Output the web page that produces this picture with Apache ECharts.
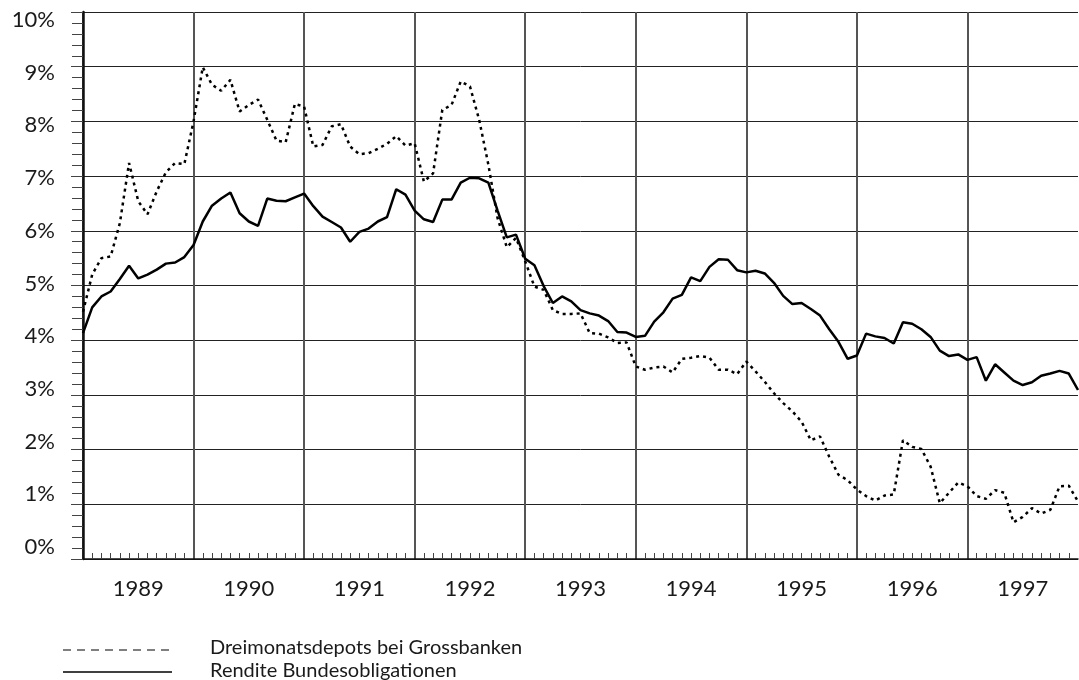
<!DOCTYPE html>
<html>
<head>
<meta charset="utf-8">
<script src="https://cdn.jsdelivr.net/npm/echarts@6/dist/echarts.min.js"></script>
<style>
html,body{margin:0;padding:0;background:#fff;}
#chart{width:1079px;height:680px;}
</style>
</head>
<body>
<div id="chart"></div>
<script>
const years = ['1989','1990','1991','1992','1993','1994','1995','1996','1997'];
const yTicks = [0,1,2,3,4,5,6,7,8,9,10];
const seriesNames = ['Dreimonatsdepots bei Grossbanken','Rendite Bundesobligationen'];

const depots = [4.52,5.20,5.50,5.53,6.14,7.24,6.54,6.30,6.72,7.07,7.24,7.22,
8.00,8.99,8.67,8.56,8.76,8.18,8.30,8.40,8.03,7.65,7.62,8.32,
8.27,7.54,7.57,7.91,7.95,7.54,7.40,7.42,7.50,7.59,7.73,7.56,
7.60,6.90,7.05,8.21,8.30,8.73,8.64,8.03,7.21,6.23,5.70,5.87,
5.44,4.98,4.92,4.55,4.48,4.48,4.49,4.13,4.12,4.05,3.95,3.96,
3.52,3.46,3.50,3.52,3.41,3.66,3.68,3.71,3.68,3.46,3.46,3.38,
3.61,3.43,3.24,3.03,2.85,2.70,2.51,2.17,2.24,1.87,1.54,1.44,
1.27,1.15,1.07,1.16,1.18,2.17,2.05,2.01,1.69,1.02,1.21,1.40,
1.33,1.15,1.10,1.26,1.21,0.67,0.77,0.93,0.83,0.90,1.33,1.34,
1.05];

const rendite = [4.13,4.60,4.80,4.89,5.12,5.36,5.13,5.20,5.29,5.40,5.42,5.52,
5.74,6.17,6.46,6.59,6.70,6.32,6.17,6.09,6.59,6.55,6.54,6.61,
6.68,6.45,6.26,6.16,6.06,5.80,5.98,6.04,6.17,6.25,6.76,6.66,
6.37,6.21,6.16,6.57,6.57,6.88,6.97,6.96,6.88,6.37,5.88,5.93,
5.49,5.37,4.99,4.68,4.80,4.71,4.55,4.49,4.45,4.35,4.15,4.14,
4.06,4.08,4.34,4.51,4.76,4.83,5.15,5.08,5.34,5.48,5.47,5.28,
5.24,5.27,5.22,5.05,4.81,4.66,4.68,4.57,4.45,4.20,3.97,3.66,
3.72,4.12,4.07,4.04,3.94,4.33,4.30,4.20,4.06,3.81,3.71,3.74,
3.64,3.69,3.26,3.56,3.41,3.26,3.18,3.23,3.35,3.39,3.44,3.39,
3.09];

const monthsTotal = years.length * 12;
const FONT = 'Lato';
const TXT = '#1a1a1a';

// year divider colours: visible for every year boundary, hidden at the right edge
const yearLineColors = years.map(() => '#555').concat(['rgba(0,0,0,0)']);

const chart = echarts.init(document.getElementById('chart'), null, {renderer:'canvas'});
chart.setOption({
  animation: false,
  backgroundColor: '#fff',
  grid: {left: 83, right: 1, top: 12, bottom: 121, containLabel: false},
  xAxis: [{
    type: 'value', min: 0, max: monthsTotal, interval: 12,
    axisLine: {show: true, onZero: false, lineStyle: {color: '#111', width: 1.5}},
    axisTick: {show: false, inside: true},
    minorTick: {show: true, splitNumber: 12, length: 6, lineStyle: {color: '#444', width: 1}},
    axisLabel: {show: false},
    splitLine: {show: true, lineStyle: {color: yearLineColors, width: 2}},
    minorSplitLine: {show: false}
  }, {
    type: 'category', position: 'bottom', data: years, boundaryGap: true,
    axisLine: {show: false}, axisTick: {show: false}, splitLine: {show: false},
    axisLabel: {show: true, fontFamily: FONT, fontSize: 22, color: TXT, margin: 19}
  }],
  yAxis: [{
    type: 'value', min: yTicks[0], max: yTicks[yTicks.length-1], interval: 1,
    axisLine: {show: true, lineStyle: {color: '#111', width: 2.5}},
    axisTick: {show: true, inside: false, length: 12, lineStyle: {color: '#444', width: 1}},
    minorTick: {show: true, splitNumber: 5, length: 11, lineStyle: {color: '#444', width: 1}},
    axisLabel: {show: false},
    splitLine: {show: true, lineStyle: {color: '#222', width: 1}}
  }, {
    // label-only axis: the original's labels are spaced slightly tighter than the grid
    type: 'value', position: 'left', min: -0.228, max: 10.152,
    axisLine: {show: false}, axisTick: {show: false}, splitLine: {show: false},
    axisLabel: {show: true, customValues: yTicks, fontFamily: FONT, fontSize: 22, color: TXT, margin: 28, formatter: '{value}%'}
  }],
  series: [{
    name: seriesNames[0], type: 'line', xAxisIndex: 0, yAxisIndex: 0,
    data: depots.map((v, i) => [i, v]),
    symbol: 'none', smooth: false,
    lineStyle: {color: '#000', width: 2.5, type: [3, 4]}
  }, {
    name: seriesNames[1], type: 'line', xAxisIndex: 0, yAxisIndex: 0,
    data: rendite.map((v, i) => [i, v]),
    symbol: 'none', smooth: false,
    lineStyle: {color: '#000', width: 2.5, type: 'solid'}
  }],
  graphic: [
    {type: 'line', shape: {x1: 63, y1: 650, x2: 172, y2: 650}, style: {stroke: '#000', lineWidth: 1.2, lineDash: [8, 6]}},
    {type: 'text', left: 210, top: 638, style: {text: seriesNames[0], font: '20px Lato', fill: TXT}},
    {type: 'line', shape: {x1: 63, y1: 672, x2: 172, y2: 672}, style: {stroke: '#000', lineWidth: 1.5}},
    {type: 'text', left: 210, top: 661, style: {text: seriesNames[1], font: '20px Lato', fill: TXT}}
  ]
});
</script>
</body>
</html>
